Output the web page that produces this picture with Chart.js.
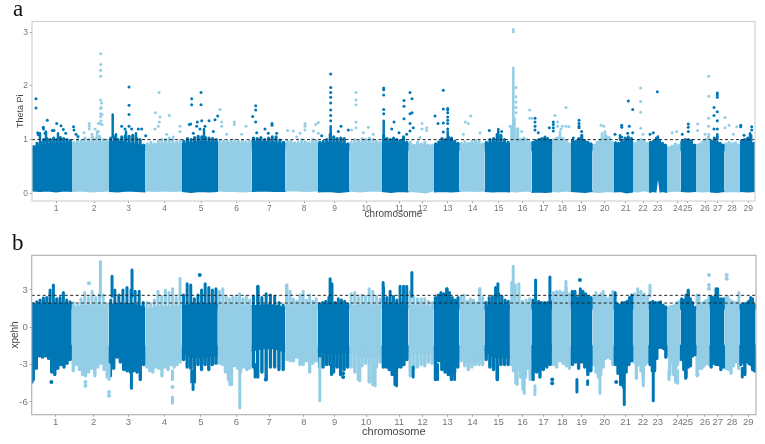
<!DOCTYPE html>
<html>
<head>
<meta charset="utf-8">
<script src="https://cdn.jsdelivr.net/npm/chart.js@4"></script>
<style>
  html, body { margin: 0; padding: 0; background: #fff; }
  canvas { position: absolute; left: 0; }
  .tag { position: absolute; font-family: "Liberation Serif", serif; font-size: 23px; color: #111; line-height: 1; }
</style>
</head>
<body>
<canvas id="thetaChart" width="765" height="222" style="top:0"></canvas>
<canvas id="xpehhChart" width="765" height="222" style="top:222px"></canvas>
<div class="tag" style="left:13px;top:-3px">a</div>
<div class="tag" style="left:12px;top:231px">b</div>
<script>
// genome position in bins, chromosome edges shared by both panels
const chromEdges = [0,40,77,113.5,150,186,219.5,253.5,286,317.5,350,376.5,402,427.5,452.5,478,499.5,520,539,560.5,582,601,617,635,648.5,664,678,692.5,708,723.5];
const chromTicks = [24,62,96.7,132.7,169,204.7,237.3,272,302.7,334.3,367.3,390.7,415.7,440.7,466.7,490.7,511.7,530.3,549.7,572.7,593.7,611,625.7,645.7,655.7,673,685.7,700,716.3];
const chromLabels = ['1','2','3','4','5','6','7','8','9','10','11','12','13','14','15','16','17','18','19','20','21','22','23','24','25','26','27','28','29'];

const thetaTicks = [0,1,2,3];
const xpehhTicks = [-6,-3,0,3];
const thetaCutoffs = [1.0];
const xpehhCutoffs = [2.57,1.95];

const DARK = '#0077b5';
const LIGHT = '#93cee6';

// solid part of each chromosome, top and bottom edge
const thetaSolidTop = [
  [.85,.92,.93],[.92,.95,.95],[.96,.96,.93,.88],[.9,.92,.92],[.92,.96,.95],[.93,.94,.92],
  [.97,.96,.92],[.93,.92,.93],[.92,.95,.9],[.93,.93,.92],[.96,.94,.92],[.9,.9,.87],
  [.88,.95,.92],[.9,.93,.9],[.92,.96,.92],[.93,.96,.92],[.92,.95,.94],[.96,.95,.9],
  [.93,.96,.9],[.88,.95,.94],[.9,.95,.98],[.9,.94,.9],[.92,.94,.88],[.83,.88,.87],
  [.93,.95,.88],[.88,.92,.96],[.95,.92,.88],[.9,.9,.88],[.94,.96,.9]
];
const thetaSolidBottom = [
  [.05,.04,.05,.03,.05,.04],[.04,.05,.03,.04,.05],[.04,.03,.05,.04,.03],[.05,.04,.05,.04,.05],
  [.04,.02,.04,.03,.04],[.05,.04,.04,.03,.04],[.04,.05,.04,.04],[.05,.05,.04,.05],
  [.03,.04,.02,.04],[.05,.03,.05,.04],[.04,.02,.04,.03],[.04,.03,.01,.05],
  [.03,.04,.03,.04],[.04,.05,.04,.05],[.04,.03,.04,.03],[.04,.03,.05,.04],
  [.02,.03,.02,.03],[.04,.03,.05,.04],[.04,.03,.02,.04],[.03,.02,.04,.03],
  [.03,.04,.01,.03],[.04,.03,.05,.04],[.02,.03,.04,.03,.37,.03,.04,.03,.02],[.03,.05,.04],
  [.04,.03,.04],[.04,.03,.04],[.03,.02,.04],[.03,.04,.03],[.04,.03,.04]
];
const xpehhSolidTop = [
  [1.8,1.9,1.9,1.85],[1.6,1.75,1.8,1.75],[1.85,1.9,1.9,1.6],[1.45,1.65,1.65,1.7],[1.7,1.9,1.9,1.85],[1.7,1.8,1.8,1.7],
  [1.7,1.8,1.8,1.55],[1.7,1.8,1.8,1.7],[1.75,1.9,1.85,1.7],[1.7,1.8,1.8,1.7],[1.8,1.9,1.85,1.7],[1.7,1.8,1.75,1.6],
  [1.7,1.85,1.85,1.7],[1.7,1.8,1.75,1.6],[1.6,1.85,1.85,1.7],[1.7,1.9,1.85,1.7],[1.8,2,1.95,1.85],[1.8,2,1.95,1.8],
  [1.8,2,1.95,1.75],[1.7,1.9,1.85,1.7],[1.5,1.65,1.7,1.8],[1.7,1.9,1.85,1.7],[1.8,1.95,1.75,1.55],[1.4,1.5,1.55,1.6],
  [1.85,2,1.85,1.45],[1.6,1.8,1.85,1.8],[1.8,1.95,1.85,1.7],[1.7,1.85,1.8,1.7],[1.6,1.75,1.8,1.6]
];
const xpehhSolidBottom = [
  [-2,-2.1,-2.1,-2],[-2.3,-2.6,-2.65,-2.4],[-1.7,-1.85,-1.9,-2],[-2.6,-2.8,-2.8,-2.3],[-2,-2.4,-2.4,-2.2],[-2.3,-2.8,-2.8,-2.6],
  [-1.9,-1.7,-1.7,-2],[-1.7,-1.85,-1.85,-1.9],[-1.9,-2.1,-2.1,-2],[-2,-2.4,-2.4,-2.3],[-1.8,-2.1,-2.1,-1.9],[-1.8,-2.1,-2.1,-2],
  [-1.9,-2.1,-2.1,-2.2],[-2.4,-2.8,-2.8,-2.4],[-1.8,-2.4,-2.4,-2.4],[-2.6,-2.8,-2.8,-2.5],[-2,-2.25,-2.25,-2],[-1.8,-1.85,-1.9,-1.9],
  [-1.6,-1.85,-2.2,-2.3],[-2.2,-2.25,-2.25,-1.9],[-1.8,-2,-2,-1.9],[-2.4,-2.8,-2.8,-2.4],[-2,-1.6,-1.6,-1.6],[-2,-2.8,-2.8,-2.2],
  [-1.8,-2.1,-2.1,-1.6],[-2.8,-3,-3,-2.6],[-2.6,-2.8,-2.8,-2.6],[-2.1,-2.25,-2.25,-2.1],[-2.4,-2.8,-2.8,-2.6]
];

// tips reached by the points just outside the solid part, read left to right
const thetaTopTips = [
  [.87,.93,.96,1,1.02,1,1.03,1,1.04,1.02,1,.98],[.95,1,.98,1.03,1,1.05,1.02,1.06,1,.99],
  [1.03,1.05,1,1.05,1.07,1.06,1.08,1.03,1,.9],[.92,.95,.92,.97,1,1,1.03,1,.95,.98],
  [.97,1.02,1,1.04,1.06,1.05,1.04,1.03,1.02,1],[.98,.97,.97,.97,.98,.97,.98,.96,.97],
  [1.03,1.02,1.04,1,1.03,1.05,1.05,.99,.95],[.97,.97,.94,.95,1,.96,.94,1,.98],
  [.95,.97,1,1.1,1.05,1.02,1.03,1.02,.92],[.95,1,.97,1.02,1,1.03,1,.97,.95],
  [1.08,1.02,1,1.03,1,.98,1.05,.95],[.95,.9,.95,.92,.95,.9,.9],
  [.92,.96,1.02,1,1.05,1.03,.97,.93],[.93,.96,.93,.97,.98,.97,.92],
  [.95,1,1.02,1.1,1.08,1,.95],[.96,1.02,1.2,1,1.03,1,.95],
  [.95,.98,1,1.02,1.03,1.02,.98],[1,1.03,1.05,1.02,.98,.92],
  [.98,.97,1.02,1.08,.98,.95,.92],[.9,.95,1,1,1.06,1.04,.95],
  [.94,.93,.97,1.03,1.05,1.02],[.93,.98,1,.98,.93],
  [.95,.97,1.03,.98,.93,.9],[.85,.88,.92,.9],
  [.97,1,1,.98,.9],[.9,.92,.97,1,1.05],
  [.97,1.03,.95,.93,.9],[.92,.95,.92,.94,.9],[.98,1,1.03,1.08,.93]
];
const xpehhTopTips = [
  [1.9,2.05,2.2,2.35,2.4,3,3.4,2.3,2.4,2.8,2.2,2.05],[2,1.8,2.3,2.8,2.4,2.9,2.4,2.7,2.6,1.9],
  [2.2,3,2.6,3,3.2,3,2.9,2.9,2],[2,1.9,2.2,2.9,2.5,3,2.8,3.1,2.4,2.7],
  [2.6,3.5,3.4,2.3,2.6,3,3.5,3.2,3,3.1],[2.9,3.1,2.5,2.3,2.5,2.4,2.7,2.3,2.5,2.2],
  [2.5,3.3,2.4,2.7,2.6,2.5,2,1.8],[3.4,2.9,2.3,2.1,2.6,2.9,2.2,2.6,2.1,2.3],
  [1.9,2,2.1,2.4,3.5,2,2.3,2.2,2.1,1.9],[2.7,2.8,2.4,2.6,2.5,3.1,2.9,2.5,2.3],
  [3.2,2.4,2.9,2.5,2.2,3.3,2.3,3.3],[2.9,2.4,2.3,2.3,2.3,2.1,2],
  [2.4,2.6,2.8,2.7,3.1,2.8,2.4,2.2,2.4],[2.5,2.6,2.1,2.3,2.2,2,3.1,2.4],
  [2,2.4,2.5,3.2,2.7,2.5,2.2,2.1],[3.6,3.4,2.5,2.1,2.2,2.3],
  [2.2,2,2.1,2,2,2,2.1],[2.8,2.9,2.9,2.8,3.2,2.7],
  [2.9,2.9,2.4,3.1,2.9,2.7,2.5,2.4],[2.4,2.8,2.5,2.7,2.9,2.4,2.3,2.6,2.9],
  [2.8,1.9,1.8,2,2,2.1,2.4,2.6],[2.7,3.1,2.9,2.7,2.5],
  [2,2.1,2,2,2.05,1.8,1.65],[1.6,1.7,1.7,1.8,2,2.1],
  [2.3,2.2,2.6,2.9,2.3,2,1.6],[2.6,2.6,1.9,2,2.1,2.2,2.5],
  [2.5,2.4,3.1,2.3,2.3,2.3],[2.4,2.5,2.2,2.1,2,2,2.8],[1.8,1.9,1.9,1.95,2.1,2.4,2.3,1.8]
];
const xpehhBottomTips = [
  [-4.2,-3.3,-2.3,-2.4,-2.3,-2.5,-3.6,-3.8,-3.3,-3,-3.2,-2.9,-2.6],[-3.5,-3,-3.4,-3.8,-3.9,-3.6,-3.3,-3.9,-3.2,-2.9,-3.4,-4],
  [-3.9,-3.3,-2.4,-2.8,-3.4,-3.5,-3.6,-3.5,-3.6,-4.2,-3],[-3.2,-3.5,-3.6,-3.2,-3.3,-3.9,-3.2,-3.4,-3,-3.2,-3,-2.8],
  [-2.6,-3.2,-3.3,-4.4,-3,-3.4,-3,-3.4,-3,-2.9],[-2.9,-3,-3.6,-4.2,-4.6,-3.1,-3.3,-3.6,-3.2,-3.4,-3.3],
  [-3.2,-4,-3.6,-4.2,-3.2,-3.2,-3.4,-3.4],[-2.6,-2.7,-2.7,-2.4,-3,-3,-2.7,-3.6,-2.9,-2.7],
  [-3.2,-3.2,-3,-3,-3.6,-3.2,-3.8,-3.4,-3.2],[-3.2,-3.6,-4.2,-3.1,-2.9,-4.4,-4.6,-3.2,-2.8],
  [-3.2,-3.2,-3.4,-3.8,-4.6,-3.2,-3.2,-3,-2.6],[-3.9,-3.3,-3.2,-3,-3.1,-2.8,-2.9],
  [-4.2,-2.7,-3.4,-3.6,-3.8,-4.2,-3.6,-3.2],[-2.7,-3.1,-3.4,-3.2,-3,-3,-3],
  [-2.6,-3.2,-3.4,-4.2,-3,-3,-3],[-3,-3.5,-4.5,-3.4,-4,-5,-4,-3.3,-4.2],
  [-4.2,-3.6,-4,-3.4,-3.2,-3],[-3,-3.2,-2.7,-2.9,-3.1,-3.3],
  [-3,-2.8,-3.3,-2.8,-3.2,-3.8,-3.5],[-3,-3.6,-4,-3.8,-3.2,-2.5,-2.4,-2.5,-3],
  [-3,-3.7,-4.6,-4.8,-3.6,-3,-2.7],[-2.8,-4.1,-3,-3.5,-4.2,-3,-2.8],
  [-3,-3.5,-3.5,-2.5,-1.6,-1.6,-1.7,-2.4],[-2.2,-3.8,-2.8,-3.8,-4.4,-3,-2.6],
  [-2.6,-3.4,-4,-3.2,-3.1,-2.3,-2.2],[-3.9,-3.3,-3.3,-3.1,-2.9,-3],
  [-3.2,-2.9,-3,-3,-3.4,-3.2],[-3.3,-3.4,-3.7,-3.1,-2.8,-3.3],[-3,-2.8,-3.8,-2.7,-2.9,-3,-3.4,-3.5]
];

// outliers above the band, top panel: [bin, value]
const thetaDarkPoints = [
  [4,1.76],[4,1.59],[5.7,1.13],[6.3,1.09],[11.3,1.23],[11.5,1.2],[15.3,1.36],[13,1.12],[20.3,1.17],[22,1.17],[24.7,1.3],[29,1.26],[31.3,1.19],[33.7,1.12],[41.5,1.24],[42,1.18],[44,1.1],[46,1.06],
  [97,1.98],[97,1.64],[97,1.47],[97,1.25],[89.7,1.25],[93,1.2],[99.7,1.2],[106.3,1.2],[109.7,1.2],[113.7,1.07],
  [159.7,1.76],[159.7,1.65],[169,1.88],[169,1.65],[157.3,1.28],[158.7,1.29],[164.7,1.25],[165.3,1.33],[169.7,1.35],[177,1.35],[183,1.37],[185.7,1.44],[168,1.2],[173,1.25],[181.3,1.15],[161.3,1.12],
  [220.7,1.43],[223.7,1.63],[223.7,1.55],[224.7,1.13],[223.7,1.33],[233,1.2],[240,1.3],[240,1.27],[244.7,1.12],[236.3,1.12],
  [298.7,2.22],[298.7,1.97],[298.7,1.88],[298.7,1.79],[298.7,1.68],[298.7,1.55],[298.7,1.45],[298.7,1.35],[309,1.25],[316.3,1.18],[306.3,1.15],[289.7,1.07],
  [351.7,1.96],[351.7,1.93],[351.7,1.83],[351.7,1.56],[351.7,1.48],[362,1.33],[359.7,1.2],[367,1.13],[372,1.73],[372,1.62],[372,1.39],[378,1.48],[378,1.3],[378,1.16],[378,1.88],[380,1.76],[380,1.5],[374.7,1.1],[381.3,1.22],
  [403,1.44],[406,1.3],[411.3,1.92],[411.3,1.57],[411.3,1.31],[411.3,1.14],[415.7,1.58],[415.7,1.55],[415.7,1.5],[415.7,1.42],[415.7,1.36],[415.7,1.3],[415.7,1.2],
  [457.3,1.17],[469.7,1.15],
  [503,1.4],[503,1.33],[503,1.25],[503,1.18],[506.3,1.13],[517.3,1.22],[521.3,1.33],[521.3,1.28],[521.3,1.22],[521.3,1.16],[513,1.05],
  [547,1.36],[547,1.3],[547,1.25],[547,1.22],[549.7,1.15],[541.3,1.03],
  [583,1.1],[589.7,1.27],[589.7,1.23],[589.7,1.05],[596.3,1.72],[600.7,1.56],[597.3,1.25],[595.7,1.12],[600.7,1.13],
  [625.3,1.89],[621.3,1.13],[618,1.1],
  [656.3,1.29],[656.3,1.23],[656.3,1.15],[650.3,1.1],
  [685.3,1.87],[685.3,1.83],[685.3,1.79],[685.3,1.52],[685.3,1.35],[685.3,1.2],[685.3,1.05],[682,1.6],[682,1.45],[682,1.2],
  [708.7,1.27],[708.7,1.24],[719.7,1.24],[719.7,1.18],[712,1.08]
];
const thetaLightPoints = [
  [68.7,2.6],[68.7,2.4],[68.7,2.29],[68.7,2.18],[68.7,1.74],[69.5,1.68],[69,1.6],[68.7,1.58],[68.7,1.48],[70,1.47],[68.5,1.43],[69,1.35],[68,1.3],[70,1.28],[57.3,1.3],[57.3,1.25],[57.3,1.2],[63,1.2],[66.3,1.3],[66.3,1.15],[52,1.13],[60,1.1],
  [127,1.88],[123.3,1.5],[128,1.42],[127.3,1.33],[126.3,1.25],[137.3,1.45],[148,1.25],[148,1.15],[123,1.2],[134.7,1.1],[141.3,1.05],
  [188,1.56],[189.7,1.33],[189.7,1.25],[202.3,1.33],[202.3,1.28],[214,1.25],[194.7,1.1],[209.7,1.1],
  [255.7,1.17],[261.3,1.16],[273,1.3],[273,1.25],[273,1.18],[281.3,1.16],[283.7,1.28],[286.3,1.32],[286.3,1.12],[268,1.12],[264.7,1.05],
  [324,1.88],[324,1.74],[324,1.65],[324,1.33],[324,1.22],[336.3,1.23],[331.3,1.13],[319.7,1.18],[341.3,1.1],
  [390,1.3],[390,1.2],[394.7,1.22],[394.7,1.17],[388,1.04],
  [433.3,1.33],[436.3,1.3],[438.7,1.44],[431.3,1.1],[448,1.13],
  [481.3,3.05],[481.3,3.01],[484,1.97],[484,1.8],[484,1.7],[484,1.6],[484,1.5],[478,1.25],[497.7,1.55],[497.7,1.4],[499.7,1.4],[489.7,1.15],
  [523,1.45],[534,1.6],[525.7,1.33],[525.7,1.25],[529,1.2],[530.3,1.25],[534,1.25],[537,1.24],
  [569,1.27],[571.7,1.25],
  [608.7,1.96],[608.7,1.71],[608.7,1.51],[608.7,1.21],[611,1.1],
  [640.3,1.13],[644.7,1.15],
  [665.7,1.29],[665.7,1.17],[676.7,2.18],[676.7,1.81],[676.7,1.4],[676.7,1.25],[676.7,1.1],[673,1.1],
  [693,1.41],[693,1.22],[697,1.27],[704.7,1.24],[701.3,1.1]
];
// runs of overlapping points: [bin, low, high]
const thetaDarkColumns = [[8,1,1.12],[14,1,1.15],[26,1,1.12],[80.7,1.05,1.47],[84,1,1.1],[94,1,1.15],[104,1,1.12],[172,1.03,1.2],[298.7,1.02,1.25],[351.7,1.05,1.35],[415.7,1.03,1.15],[466.3,1,1.2],[588,1,1.08],[626,1,1.06],[685.3,1,1.1],[718,1,1.12]];
const thetaLightColumns = [[65,1,1.15],[481.3,1,2.34],[482.5,1,1.4],[479.5,1,1.25],[528,1,1.15],[573,1,1.15],[570,1,1.12]];

// bottom panel
const xpehhDarkPoints = [[19.7,-4.4],[168,4.2],[234,-4.2],[311.3,-4],[311.3,-3.7],[520.3,-4.5],[520.3,-4.2],[548,3.8],[584.3,-4.4],[723.7,-3.5]];
const xpehhLightPoints = [[57.3,3.55],[53.7,-4.7],[53.7,-4.4],[77.3,-5.5],[77.3,-5.2],[140.7,-4.8],[677,4.2],[677,3.4],[677,3.1],[694.7,4.2],[694.7,3.9],[665.7,-3.8]];
const xpehhDarkColumns = [
  [0.5,-4.4,-3],[80.3,2.5,4.1],[99.7,-4.9,-3],[100.3,2.5,4.6],[161.3,-5,-4.6],[160,-4.4,-3.5],[226.3,1.9,3.3],[223.3,-4,-3],[298.3,2,3.9],[299.7,-3.8,-3],
  [351.3,2,3.6],[364.7,-4.7,-3],[371.7,2,3.3],[380,2.5,4.4],[381.3,-4,-3.2],[405.7,-4.2,-3],[415.3,2,3.1],[422.7,-4.2,-3.2],[465.7,-4.2,-3],[466,2.5,3.5],
  [503.7,2,3.8],[518,2,4.05],[545,-5.2,-4.2],[555.7,-4.6,-4.3],[592.3,-6.2,-3.2],[621.3,-5.9,-3],[653.7,-4.1,-3.5],[656.3,2,3],[685.7,2,3.1],[710.3,-4,-3.3]
];
const xpehhLightColumns = [
  [68.7,2.5,5.3],[77.3,-4.2,-3],[140.7,-6.1,-5.6],[140.7,-4.2,-3.5],[148.3,2.6,3.95],[198,-4.6,-3.6],[208,-6.5,-3],[254.7,2,3.4],[288,-5.9,-2.5],[328,-4.3,-3],[343.3,-4.7,-3],
  [448,2.2,3.1],[481.3,2,4.9],[485.3,-4.6,-3],[487,2,3.5],[492.3,-5.3,-3.3],[503,-5.4,-4.7],[534,2.5,3.7],[568,-5.3,-3],[611.3,-4.7,-3.5],[618,2.5,3.4],[637,-4.2,-3.5],[645.7,-4.5,-3.5]
];

function bandDatasets(tops, bottoms) {
  const sets = [];
  tops.forEach((top, c) => {
    const color = c % 2 ? LIGHT : DARK;
    const start = chromEdges[c], span = chromEdges[c + 1] - start;
    const along = arr => arr.map((v, k) => ({ x: start + span * k / (arr.length - 1), y: v }));
    sets.push({ data: along(top), showLine: true, borderColor: color, borderWidth: 1.5, pointRadius: 0, tension: 0, fill: '+1', backgroundColor: color, order: 9 });
    sets.push({ data: along(bottoms[c]), showLine: true, borderColor: color, borderWidth: 1.5, pointRadius: 0, tension: 0, fill: false, order: 9 });
  });
  return sets;
}

// one short column per tip, from a level inside the solid part out to the tip
function tipDatasets(tips, base, width) {
  const dark = [], light = [];
  tips.forEach((row, c) => {
    const start = chromEdges[c], span = chromEdges[c + 1] - start;
    row.forEach((v, k) => {
      (c % 2 ? light : dark).push([start + span * (k + 0.5) / row.length, base, v]);
    });
  });
  return [columnDataset(dark, DARK, width), columnDataset(light, LIGHT, width)];
}

function columnDataset(cols, color, width) {
  const pts = [];
  cols.slice().sort((a, b) => a[0] - b[0]).forEach(c => {
    pts.push({ x: c[0], y: c[1] }, { x: c[0], y: c[2] }, { x: c[0], y: null });
  });
  return { data: pts, showLine: true, spanGaps: false, borderColor: color, borderWidth: width, borderCapStyle: 'round', pointRadius: 0, fill: false, order: 5 };
}

function pointDataset(points, color, radius) {
  return { data: points.map(p => ({ x: p[0], y: p[1] })), showLine: false, pointRadius: radius, pointBackgroundColor: color, pointBorderWidth: 0, order: 4 };
}

function cutoffDataset(value, xMax) {
  return { data: [{ x: 0, y: value }, { x: xMax, y: value }], showLine: true, borderColor: '#222', borderWidth: 1, borderDash: [3, 2.5], pointRadius: 0, fill: false, order: 1 };
}

const plotFrame = {
  id: 'plotFrame',
  afterDraw(chart, args, opts) {
    const a = chart.chartArea, ctx = chart.ctx;
    ctx.save();
    ctx.strokeStyle = opts.color;
    ctx.lineWidth = 1.2;
    ctx.strokeRect(a.left, a.top, a.width, a.height);
    ctx.restore();
  }
};

function drawPanel(id, cfg) {
  new Chart(document.getElementById(id), {
    type: 'scatter',
    data: { datasets: cfg.datasets },
    plugins: [plotFrame],
    options: {
      responsive: false,
      animation: false,
      events: [],
      layout: { padding: { top: cfg.top, right: cfg.right, left: 0, bottom: 0 } },
      plugins: { legend: { display: false }, tooltip: { enabled: false }, plotFrame: { color: cfg.frame } },
      scales: {
        x: {
          type: 'linear', min: 0, max: cfg.xMax,
          afterBuildTicks(s) { s.ticks = chromTicks.map(v => ({ value: v })); },
          afterFit(s) { s.height = cfg.xHeight; },
          border: { display: false },
          grid: { drawOnChartArea: false, tickLength: 2, color: '#999' },
          ticks: { autoSkip: false, maxRotation: 0, padding: cfg.xTickPad, color: '#777', font: { family: 'Liberation Sans', size: cfg.tickSize }, callback: (v, i) => chromLabels[i] },
          title: { display: true, text: 'chromosome', color: '#444', font: { family: 'Liberation Sans', size: cfg.titleSize }, padding: { top: 0, bottom: cfg.titleGap } }
        },
        y: {
          min: cfg.yMin, max: cfg.yMax,
          afterBuildTicks(s) { s.ticks = cfg.yTicks.map(v => ({ value: v })); },
          afterFit(s) { s.width = cfg.yWidth; },
          border: { display: false },
          grid: { drawOnChartArea: false, tickLength: 2, color: '#999' },
          ticks: { padding: 2, color: '#777', font: { family: 'Liberation Sans', size: cfg.tickSize } },
          title: { display: true, text: cfg.yTitle, color: '#444', font: { family: 'Liberation Sans', size: cfg.titleSize - 1 }, padding: { top: cfg.yTitleGap, bottom: 0 } }
        }
      }
    }
  });
}

drawPanel('thetaChart', {
  top: 21.5, right: 10, xHeight: 21, yWidth: 32, xMax: 723, xTickPad: 1,
  yMin: -0.143, yMax: 3.2, yTicks: thetaTicks, yTitle: 'Theta Pi', yTitleGap: 15,
  frame: '#d2d2d2', tickSize: 8.5, titleSize: 10, titleGap: 2,
  datasets: [
    ...thetaCutoffs.map(v => cutoffDataset(v, 723)),
    pointDataset(thetaDarkPoints, DARK, 1.5),
    pointDataset(thetaLightPoints, LIGHT, 1.5),
    columnDataset(thetaDarkColumns, DARK, 2.5),
    columnDataset(thetaLightColumns, LIGHT, 2.5),
    ...tipDatasets(thetaTopTips, 0.8, 3.2),
    ...bandDatasets(thetaSolidTop, thetaSolidBottom)
  ]
});

drawPanel('xpehhChart', {
  top: 33.3, right: 9, xHeight: 29.3, yWidth: 31.7, xMax: 724, xTickPad: 0,
  yMin: -7.03, yMax: 5.79, yTicks: xpehhTicks, yTitle: 'xpehh', yTitleGap: 9,
  frame: '#b4b4b4', tickSize: 9.5, titleSize: 11, titleGap: 5,
  datasets: [
    ...xpehhCutoffs.map(v => cutoffDataset(v, 724)),
    pointDataset(xpehhDarkPoints, DARK, 2),
    pointDataset(xpehhLightPoints, LIGHT, 2),
    columnDataset(xpehhDarkColumns, DARK, 3),
    columnDataset(xpehhLightColumns, LIGHT, 3),
    ...tipDatasets(xpehhTopTips, 1.5, 3),
    ...tipDatasets(xpehhBottomTips, -1.5, 3.4),
    ...bandDatasets(xpehhSolidTop, xpehhSolidBottom)
  ]
});
</script>
</body>
</html>
